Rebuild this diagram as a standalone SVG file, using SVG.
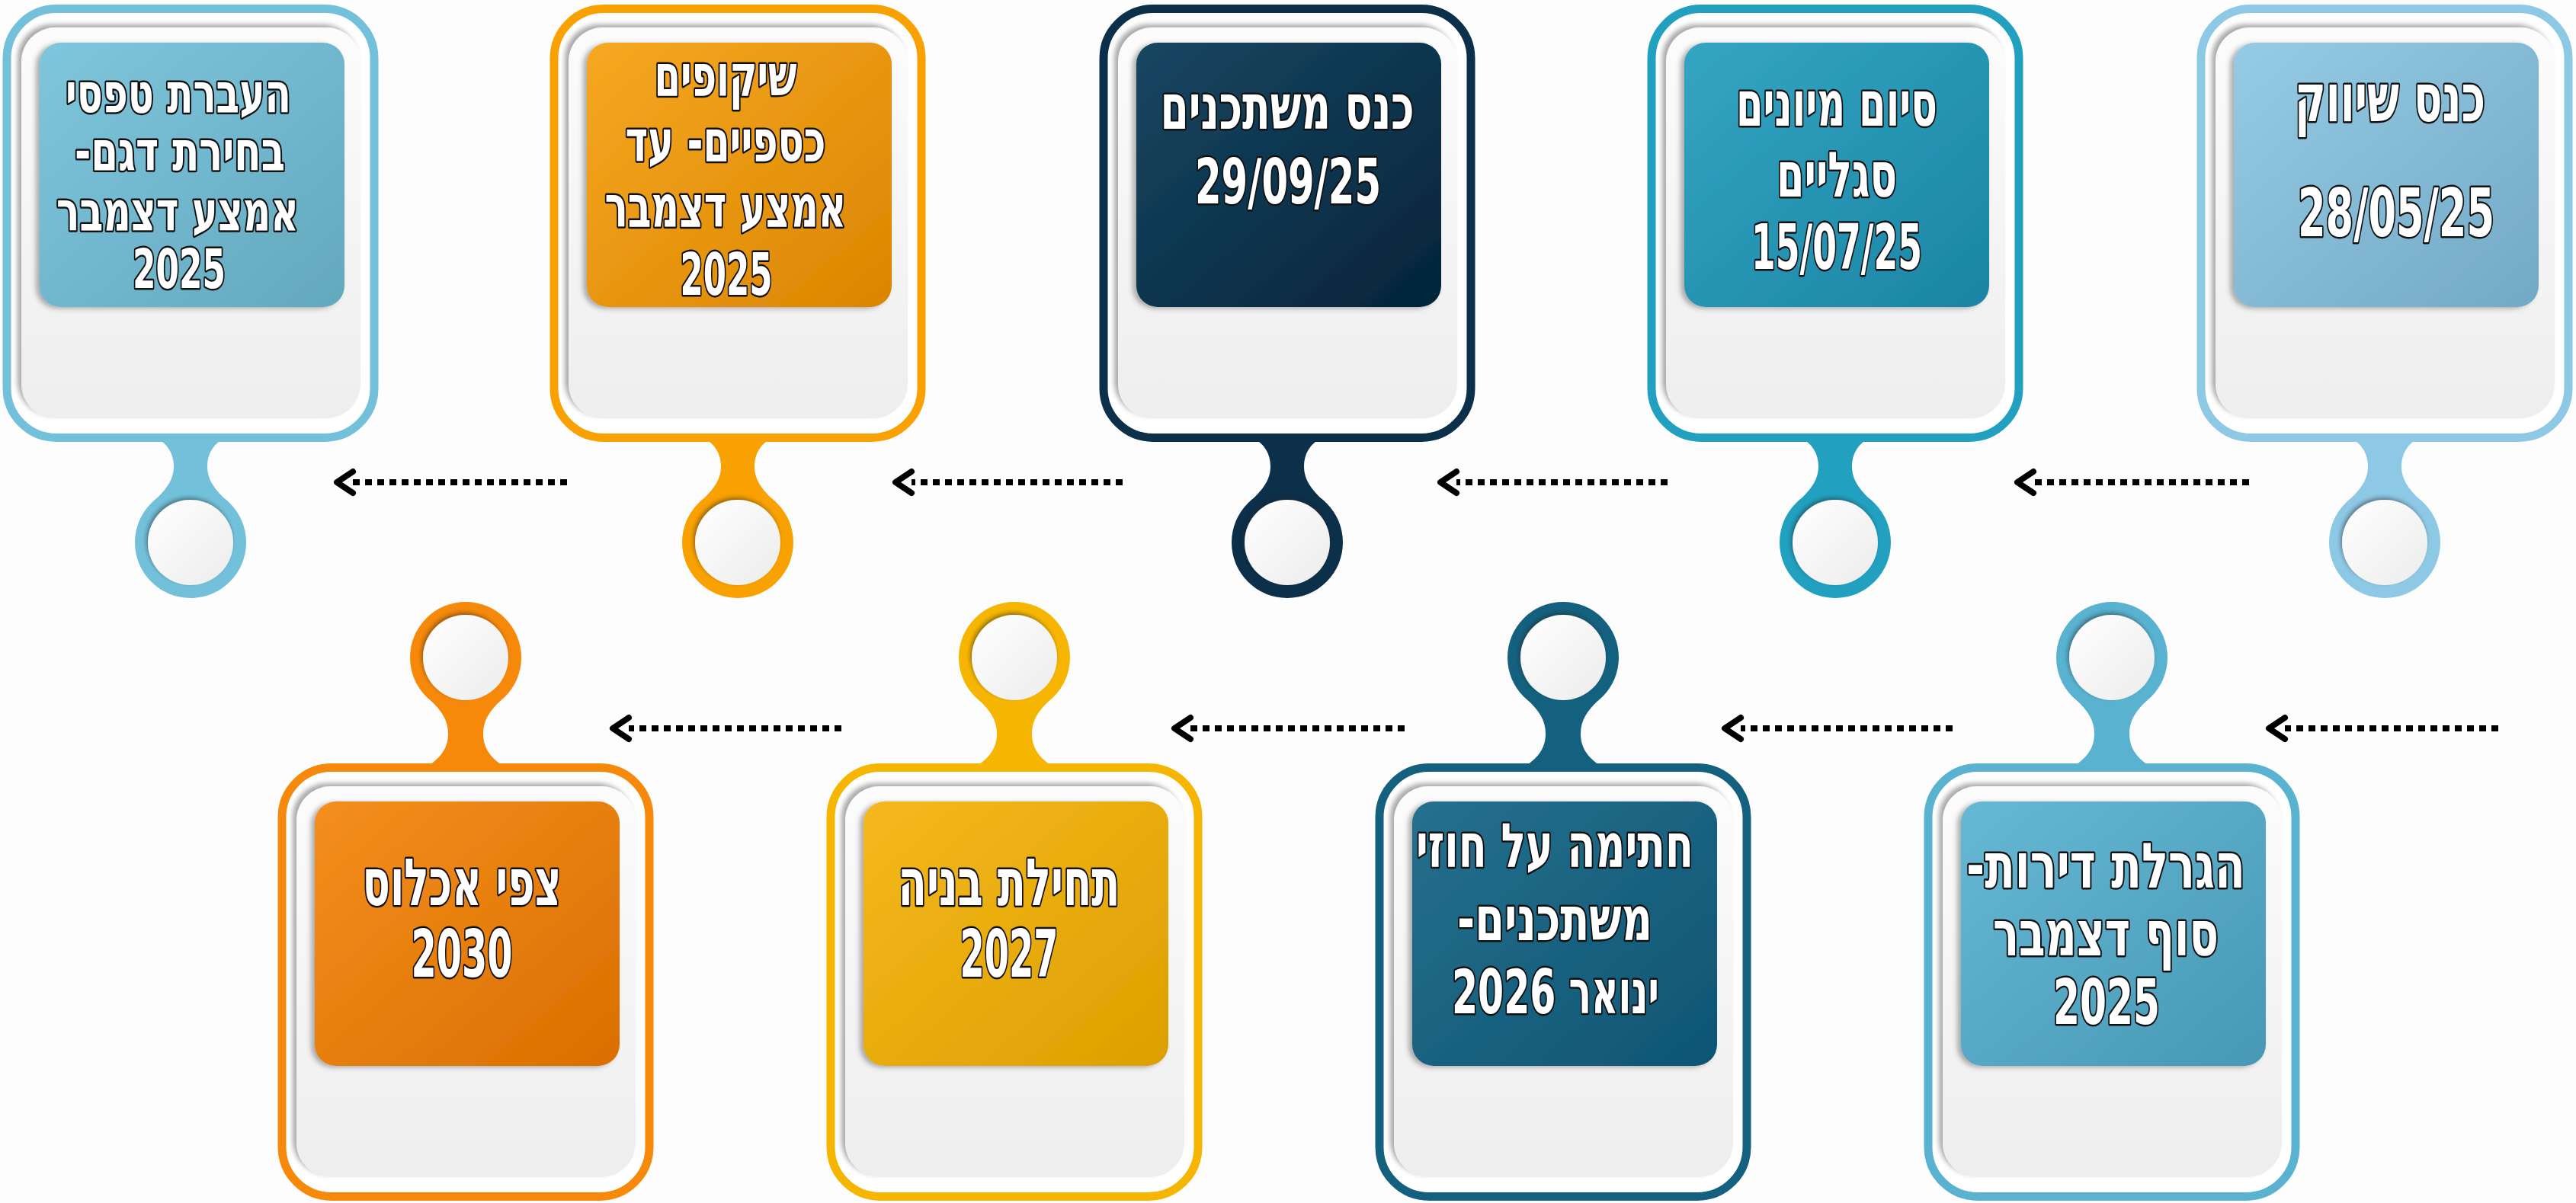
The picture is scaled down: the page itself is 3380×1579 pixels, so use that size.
<svg xmlns="http://www.w3.org/2000/svg" width="3380" height="1579" viewBox="0 0 3380 1579">
<style>
.outer{fill:#fff;stroke-width:11}
.tray{fill:url(#trayG);filter:url(#sh)}
.panel{filter:url(#psh)}
.knob{fill:url(#knobG);filter:url(#ksh)}
.t{font-family:"DejaVu Sans Condensed","DejaVu Sans","Liberation Sans",sans-serif;font-weight:bold;fill:#fff;stroke:#111;stroke-width:5;stroke-linejoin:round;paint-order:stroke;text-anchor:middle;direction:rtl}
.dash{fill:none;stroke:#000;stroke-width:8;stroke-dasharray:9 7}
.head{fill:none;stroke:#000;stroke-width:8;stroke-linecap:round;stroke-linejoin:round}
</style>
<defs>
<linearGradient id="trayG" x1="0" y1="0" x2="0" y2="1"><stop offset="0" stop-color="#fcfcfc"/><stop offset="1" stop-color="#eeeeee"/></linearGradient>
<linearGradient id="knobG" x1="0" y1="0" x2="1" y2="1"><stop offset="0" stop-color="#ffffff"/><stop offset="1" stop-color="#ececec"/></linearGradient>
<filter id="sh" x="-10%" y="-10%" width="120%" height="120%"><feDropShadow dx="-5" dy="-4" stdDeviation="3" flood-color="#6f6f6f" flood-opacity="0.6"/></filter>
<filter id="psh" x="-10%" y="-10%" width="120%" height="120%"><feDropShadow dx="-5" dy="2" stdDeviation="3" flood-color="#555" flood-opacity="0.45"/></filter>
<filter id="ksh" x="-20%" y="-20%" width="140%" height="140%"><feDropShadow dx="-2" dy="-3" stdDeviation="2.5" flood-color="#222" flood-opacity="0.45"/></filter>
<linearGradient id="g1" x1="0" y1="0" x2="1" y2="1"><stop offset="0" stop-color="#95cbe4"/><stop offset="1" stop-color="#74a9c6"/></linearGradient>
<linearGradient id="g2" x1="0" y1="0" x2="1" y2="1"><stop offset="0" stop-color="#34a5c3"/><stop offset="1" stop-color="#1b84a4"/></linearGradient>
<linearGradient id="g3" x1="0" y1="0" x2="1" y2="1"><stop offset="0" stop-color="#184662"/><stop offset="1" stop-color="#04243a"/></linearGradient>
<linearGradient id="g4" x1="0" y1="0" x2="1" y2="1"><stop offset="0" stop-color="#f6a822"/><stop offset="1" stop-color="#db8500"/></linearGradient>
<linearGradient id="g5" x1="0" y1="0" x2="1" y2="1"><stop offset="0" stop-color="#7ec6dd"/><stop offset="1" stop-color="#64a8bd"/></linearGradient>
<linearGradient id="g6" x1="0" y1="0" x2="1" y2="1"><stop offset="0" stop-color="#66b8d4"/><stop offset="1" stop-color="#4798b5"/></linearGradient>
<linearGradient id="g7" x1="0" y1="0" x2="1" y2="1"><stop offset="0" stop-color="#25708e"/><stop offset="1" stop-color="#0e5573"/></linearGradient>
<linearGradient id="g8" x1="0" y1="0" x2="1" y2="1"><stop offset="0" stop-color="#f5b91d"/><stop offset="1" stop-color="#dc9f00"/></linearGradient>
<linearGradient id="g9" x1="0" y1="0" x2="1" y2="1"><stop offset="0" stop-color="#f48e1d"/><stop offset="1" stop-color="#da6f00"/></linearGradient>
</defs>
<rect width="3380" height="1579" fill="#fdfdfd"/>

<!-- top row cards (y0 = 6) -->
<g id="card1">
<path fill="#8dc8e5" d="M3084,575 C3099,582 3107,596 3107,612 C3107,630 3097,642 3083,656 L3175,656 C3161,642 3151,630 3151,612 C3151,596 3159,582 3174,575 Z"/>
<circle cx="3129" cy="712" r="73" fill="#8dc8e5"/>
<rect class="outer" stroke="#8dc8e5" x="2888" y="11.5" width="482" height="563" rx="65"/>
<rect class="tray" x="2907" y="36" width="445" height="513" rx="45"/>
<rect class="panel" fill="url(#g1)" x="2931" y="56" width="400" height="347" rx="28"/>
<circle class="knob" cx="3129" cy="712" r="56"/>
<text class="t" font-size="88" x="3136" y="159" textLength="250" lengthAdjust="spacingAndGlyphs">כנס שיווק</text>
<text class="t" font-size="88" x="3144" y="310" textLength="258" lengthAdjust="spacingAndGlyphs">28/05/25</text>
</g>

<g id="card2">
<path fill="#22a0c0" d="M2363,575 C2378,582 2386,596 2386,612 C2386,630 2376,642 2362,656 L2454,656 C2440,642 2430,630 2430,612 C2430,596 2438,582 2453,575 Z"/>
<circle cx="2408" cy="712" r="73" fill="#22a0c0"/>
<rect class="outer" stroke="#22a0c0" x="2167" y="11.5" width="482" height="563" rx="65"/>
<rect class="tray" x="2186" y="36" width="445" height="513" rx="45"/>
<rect class="panel" fill="url(#g2)" x="2210" y="56" width="400" height="347" rx="28"/>
<circle class="knob" cx="2408" cy="712" r="56"/>
<text class="t" font-size="82" x="2410" y="165" textLength="264" lengthAdjust="spacingAndGlyphs">סיום מיונים</text>
<text class="t" font-size="82" x="2410" y="258" textLength="158" lengthAdjust="spacingAndGlyphs">סגליים</text>
<text class="t" font-size="82" x="2410" y="353" textLength="224" lengthAdjust="spacingAndGlyphs">15/07/25</text>
</g>

<g id="card3">
<path fill="#0c2f4a" d="M1644,575 C1659,582 1667,596 1667,612 C1667,630 1657,642 1643,656 L1735,656 C1721,642 1711,630 1711,612 C1711,596 1719,582 1734,575 Z"/>
<circle cx="1689" cy="712" r="73" fill="#0c2f4a"/>
<rect class="outer" stroke="#0c2f4a" x="1448" y="11.5" width="482" height="563" rx="65"/>
<rect class="tray" x="1467" y="36" width="445" height="513" rx="45"/>
<rect class="panel" fill="url(#g3)" x="1491" y="56" width="400" height="347" rx="28"/>
<circle class="knob" cx="1689" cy="712" r="56"/>
<text class="t" font-size="82" x="1689" y="169" textLength="333" lengthAdjust="spacingAndGlyphs">כנס משתכנים</text>
<text class="t" font-size="82" x="1690" y="267" textLength="244" lengthAdjust="spacingAndGlyphs">29/09/25</text>
</g>

<g id="card4">
<path fill="#f8a100" d="M923,575 C938,582 946,596 946,612 C946,630 936,642 922,656 L1014,656 C1000,642 990,630 990,612 C990,596 998,582 1013,575 Z"/>
<circle cx="968" cy="712" r="73" fill="#f8a100"/>
<rect class="outer" stroke="#f8a100" x="727" y="11.5" width="482" height="563" rx="65"/>
<rect class="tray" x="746" y="36" width="445" height="513" rx="45"/>
<rect class="panel" fill="url(#g4)" x="770" y="56" width="400" height="347" rx="28"/>
<circle class="knob" cx="968" cy="712" r="56"/>
<text class="t" font-size="76" x="952" y="126" textLength="187" lengthAdjust="spacingAndGlyphs">שיקופים</text>
<text class="t" font-size="76" x="952" y="212" textLength="263" lengthAdjust="spacingAndGlyphs">כספיים- עד</text>
<text class="t" font-size="76" x="952" y="298" textLength="317" lengthAdjust="spacingAndGlyphs">אמצע דצמבר</text>
<text class="t" font-size="76" x="953" y="387" textLength="121" lengthAdjust="spacingAndGlyphs">2025</text>
</g>

<g id="card5">
<path fill="#72c0d9" d="M205,575 C220,582 228,596 228,612 C228,630 218,642 204,656 L296,656 C282,642 272,630 272,612 C272,596 280,582 295,575 Z"/>
<circle cx="250" cy="712" r="73" fill="#72c0d9"/>
<rect class="outer" stroke="#72c0d9" x="9" y="11.5" width="482" height="563" rx="65"/>
<rect class="tray" x="28" y="36" width="445" height="513" rx="45"/>
<rect class="panel" fill="url(#g5)" x="52" y="56" width="400" height="347" rx="28"/>
<circle class="knob" cx="250" cy="712" r="56"/>
<text class="t" font-size="72" x="234" y="147" textLength="296" lengthAdjust="spacingAndGlyphs">העברת טפסי</text>
<text class="t" font-size="72" x="236" y="223" textLength="276" lengthAdjust="spacingAndGlyphs">בחירת דגם-</text>
<text class="t" font-size="72" x="233" y="302" textLength="318" lengthAdjust="spacingAndGlyphs">אמצע דצמבר</text>
<text class="t" font-size="72" x="235" y="378" textLength="122" lengthAdjust="spacingAndGlyphs">2025</text>
</g>

<!-- bottom row cards (y0 = 1002) -->
<g id="card6">
<path fill="#58b2d0" d="M2725,919 C2739,933 2748,945 2748,963 C2748,979 2741,993 2721,1006 L2821,1006 C2801,993 2794,979 2794,963 C2794,945 2803,933 2817,919 Z"/>
<circle cx="2771" cy="863" r="73" fill="#58b2d0"/>
<rect class="outer" stroke="#58b2d0" x="2530" y="1007.5" width="482" height="563" rx="65"/>
<rect class="tray" x="2549" y="1032" width="445" height="513" rx="45"/>
<rect class="panel" fill="url(#g6)" x="2573" y="1052" width="400" height="347" rx="28"/>
<circle class="knob" cx="2771" cy="863" r="56"/>
<text class="t" font-size="82" x="2763" y="1165" textLength="366" lengthAdjust="spacingAndGlyphs">הגרלת דירות-</text>
<text class="t" font-size="82" x="2763" y="1254" textLength="296" lengthAdjust="spacingAndGlyphs">סוף דצמבר</text>
<text class="t" font-size="82" x="2764" y="1344" textLength="140" lengthAdjust="spacingAndGlyphs">2025</text>
</g>

<g id="card7">
<path fill="#14617f" d="M2005,919 C2019,933 2028,945 2028,963 C2028,979 2021,993 2001,1006 L2101,1006 C2081,993 2074,979 2074,963 C2074,945 2083,933 2097,919 Z"/>
<circle cx="2051" cy="863" r="73" fill="#14617f"/>
<rect class="outer" stroke="#14617f" x="1810" y="1007.5" width="482" height="563" rx="65"/>
<rect class="tray" x="1829" y="1032" width="445" height="513" rx="45"/>
<rect class="panel" fill="url(#g7)" x="1853" y="1052" width="400" height="347" rx="28"/>
<circle class="knob" cx="2051" cy="863" r="56"/>
<text class="t" font-size="80" x="2040" y="1138" textLength="364" lengthAdjust="spacingAndGlyphs">חתימה על חוזי</text>
<text class="t" font-size="80" x="2040" y="1234" textLength="256" lengthAdjust="spacingAndGlyphs">משתכנים-</text>
<text class="t" font-size="80" x="2041" y="1330" textLength="272" lengthAdjust="spacingAndGlyphs">ינואר 2026</text>
</g>

<g id="card8">
<path fill="#f6b500" d="M1285,919 C1299,933 1308,945 1308,963 C1308,979 1301,993 1281,1006 L1381,1006 C1361,993 1354,979 1354,963 C1354,945 1363,933 1377,919 Z"/>
<circle cx="1331" cy="863" r="73" fill="#f6b500"/>
<rect class="outer" stroke="#f6b500" x="1090" y="1007.5" width="482" height="563" rx="65"/>
<rect class="tray" x="1109" y="1032" width="445" height="513" rx="45"/>
<rect class="panel" fill="url(#g8)" x="1133" y="1052" width="400" height="347" rx="28"/>
<circle class="knob" cx="1331" cy="863" r="56"/>
<text class="t" font-size="86" x="1324" y="1188" textLength="291" lengthAdjust="spacingAndGlyphs">תחילת בניה</text>
<text class="t" font-size="86" x="1324" y="1282" textLength="129" lengthAdjust="spacingAndGlyphs">2027</text>
</g>

<g id="card9">
<path fill="#f7890a" d="M565,919 C579,933 588,945 588,963 C588,979 581,993 561,1006 L661,1006 C641,993 634,979 634,963 C634,945 643,933 657,919 Z"/>
<circle cx="611" cy="863" r="73" fill="#f7890a"/>
<rect class="outer" stroke="#f7890a" x="370" y="1007.5" width="482" height="563" rx="65"/>
<rect class="tray" x="389" y="1032" width="445" height="513" rx="45"/>
<rect class="panel" fill="url(#g9)" x="413" y="1052" width="400" height="347" rx="28"/>
<circle class="knob" cx="611" cy="863" r="56"/>
<text class="t" font-size="86" x="606" y="1188" textLength="261" lengthAdjust="spacingAndGlyphs">צפי אכלוס</text>
<text class="t" font-size="86" x="606" y="1282" textLength="133" lengthAdjust="spacingAndGlyphs">2030</text>
</g>

<g id="connectors">
<path class="dash" d="M2951,633 H2668"/><path class="head" d="M2668,619 L2647,633 L2668,647"/>
<path class="dash" d="M2188,633 H1911"/><path class="head" d="M1911,619 L1890,633 L1911,647"/>
<path class="dash" d="M1473,633 H1196"/><path class="head" d="M1196,619 L1175,633 L1196,647"/>
<path class="dash" d="M744,633 H463"/><path class="head" d="M463,619 L442,633 L463,647"/>
<path class="dash" d="M3278,956 H2998"/><path class="head" d="M2998,942 L2977,956 L2998,970"/>
<path class="dash" d="M2562,956 H2284"/><path class="head" d="M2284,942 L2263,956 L2284,970"/>
<path class="dash" d="M1843,956 H1562"/><path class="head" d="M1562,942 L1541,956 L1562,970"/>
<path class="dash" d="M1104,956 H825"/><path class="head" d="M825,942 L804,956 L825,970"/>
</g>
</svg>
